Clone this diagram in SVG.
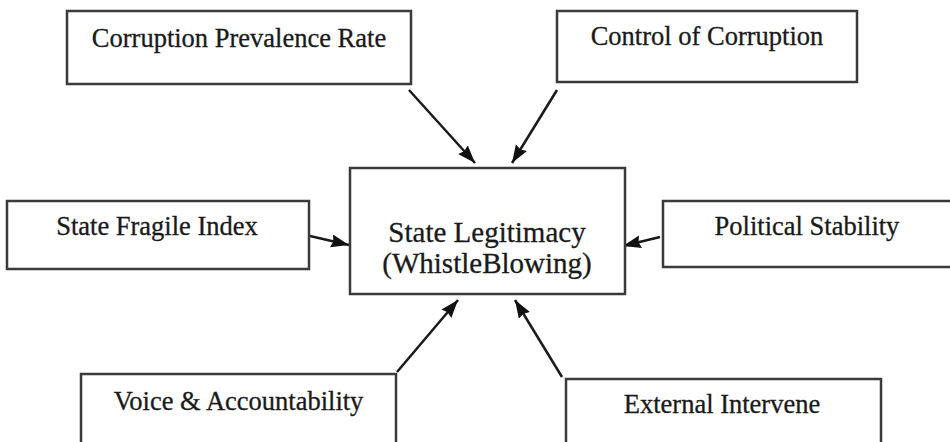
<svg xmlns="http://www.w3.org/2000/svg" width="950" height="442" viewBox="0 0 950 442">
<style>
.box{fill:#fff;stroke:#3a3a3a;stroke-width:2.5}
.t{font-family:"Liberation Serif","Times New Roman",serif;font-size:26.5px;fill:#1a1a1a;text-anchor:middle;stroke:#1a1a1a;stroke-width:0.3}
.c{font-size:29px}
.arr{stroke:#1a1a1a;stroke-width:2.5;fill:none;marker-end:url(#ah)}
</style>
<defs>
<marker id="ah" markerUnits="userSpaceOnUse" markerWidth="20" markerHeight="16" viewBox="0 0 20 16" refX="18" refY="8" orient="auto">
<path d="M0,1.5 L18,8 L0,14.5 L2,8 Z" fill="#111"/>
</marker>
</defs>
<rect width="950" height="442" fill="#fff"/>
<g id="connectors">
<line class="arr" x1="409" y1="90" x2="475" y2="163"/>
<line class="arr" x1="557" y1="90" x2="512" y2="163"/>
<line class="arr" x1="310" y1="236" x2="349" y2="245"/>
<line class="arr" x1="660" y1="237" x2="623" y2="246"/>
<line class="arr" x1="397" y1="372" x2="458" y2="300"/>
<line class="arr" x1="562" y1="377" x2="515" y2="300"/>
</g>
<g id="center">
<rect class="box" x="350" y="168" width="275" height="126"/>
<text class="t c" x="487" y="242">State Legitimacy</text>
<text class="t c" x="487" y="273">(WhistleBlowing)</text>
</g>
<g id="corruption-prevalence">
<rect class="box" x="67" y="11" width="344" height="73"/>
<text class="t" x="239" y="47">Corruption Prevalence Rate</text>
</g>
<g id="control-corruption">
<rect class="box" x="557" y="11" width="300" height="71"/>
<text class="t" x="707" y="45">Control of Corruption</text>
</g>
<g id="state-fragile">
<rect class="box" x="7" y="201" width="302" height="68"/>
<text class="t" x="157" y="235">State Fragile Index</text>
</g>
<g id="political-stability">
<rect class="box" x="663" y="201" width="300" height="66"/>
<text class="t" x="807" y="235">Political Stability</text>
</g>
<g id="voice">
<rect class="box" x="81" y="374" width="315" height="90"/>
<text class="t" x="238.5" y="410">Voice &amp; Accountability</text>
</g>
<g id="external">
<rect class="box" x="566" y="379" width="315" height="90"/>
<text class="t" x="722" y="413">External Intervene</text>
</g>
</svg>
